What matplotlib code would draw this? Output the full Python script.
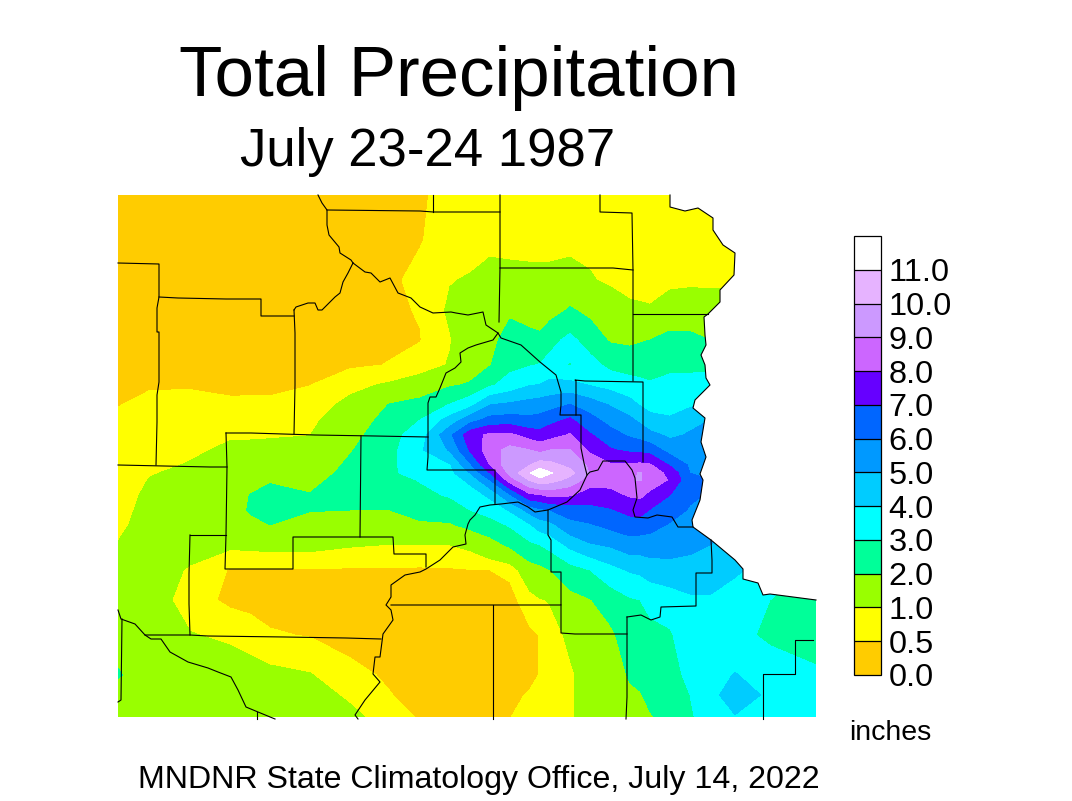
import numpy as np
import matplotlib
matplotlib.use("Agg")
import matplotlib.pyplot as plt
from matplotlib.patches import Polygon

plt.rcParams['font.family'] = ['Liberation Sans', 'DejaVu Sans']

levels = [0, 0.5, 1, 2, 3, 4, 5, 6, 7, 8, 9, 10, 11, 13]
level_labels = ['0.0', '0.5', '1.0', '2.0', '3.0', '4.0', '5.0', '6.0', '7.0', '8.0', '9.0', '10.0', '11.0']
colors = ['#FFCC00', '#FFFF00', '#99FF00', '#00FF99', '#00FFFF', '#00CCFF', '#0099FF',
          '#0066FF', '#6600FF', '#CC66FF', '#CC99FF', '#E6B3FF', '#FFFFFF']

# map position of the grid
grid_x = [118, 150, 190, 230, 250, 270, 310, 350, 390, 420, 450, 470, 490, 510, 530, 540, 550,
          570, 590, 610, 630, 640, 650, 670, 690, 710, 735, 770, 816]
grid_y = [195, 240, 280, 310, 340, 365, 385, 405, 420, 435, 450, 465, 473, 480, 495, 510,
          525, 545, 570, 600, 635, 675, 695, 717]

# rainfall in inches, one list per grid_x column, top to bottom
precip_columns = [
    [.2, .2, .2, .2, .25, .3, .38, .49, .55, .6, .65, .7, .72, .75, .8, .85, .9, 1.02, 1.15, 1.3, 1.5, 2.1, 1.5, 1.5],
    [.2, .2, .2, .22, .28, .35, .47, .58, .63, .7, .8, .9, .97, 1.02, 1.1, 1.15, 1.2, 1.25, 1.25, 1.3, 1.35, 1.4, 1.4, 1.4],
    [.2, .2, .2, .22, .28, .36, .47, .6, .68, .78, .92, 1.03, 1.1, 1.15, 1.25, 1.3, 1.3, 1.2, .95, .75, 1.03, 1.25, 1.3, 1.3],
    [.2, .2, .2, .22, .28, .33, .4, .58, .75, .95, 1.08, 1.2, 1.28, 1.35, 1.45, 1.5, 1.4, 1.12, .46, .38, .9, 1.3, 1.35, 1.35],
    [.2, .2, .2, .22, .28, .33, .38, .6, .75, .95, 1.1, 1.33, 1.5, 1.65, 2.02, 2.1, 1.72, 1.15, .46, .33, .75, 1.25, 1.3, 1.3],
    [.2, .2, .2, .22, .28, .33, .38, .6, .75, .95, 1.15, 1.5, 1.7, 1.95, 2.15, 2.2, 2.0, 1.2, .45, .3, .55, 1.15, 1.3, 1.3],
    [.2, .2, .22, .25, .3, .38, .49, .75, .88, .99, 1.2, 1.45, 1.6, 1.8, 2.03, 2.03, 1.75, 1.2, .45, .3, .47, 1.03, 1.25, 1.3],
    [.2, .22, .25, .28, .33, .42, .85, 1.15, 1.35, 1.65, 1.93, 2.15, 2.25, 2.3, 2.2, 2.0, 1.55, 1.05, .45, .3, .3, .65, .9, 1.15],
    [.32, .35, .42, .42, .42, .52, 1.08, 2.05, 2.4, 2.65, 2.7, 2.7, 2.7, 2.65, 2.4, 2.0, 1.6, .98, .45, .3, .3, .42, .52, .75],
    [.42, .47, .62, .53, .48, .7, 1.35, 2.35, 3.0, 3.5, 3.85, 3.9, 3.7, 3.05, 2.75, 2.35, 1.85, 1.0, .43, .25, .25, .25, .3, .45],
    [.7, .72, .97, 1.1, .96, 1.05, 1.9, 3.05, 4.4, 5.8, 5.1, 3.9, 3.7, 3.45, 3.1, 2.5, 1.9, 1.0, .45, .25, .2, .25, .3, .4],
    [.7, .75, 1.05, 1.4, 1.4, 1.5, 2.1, 3.7, 5.6, 7.6, 7.1, 5.8, 5.0, 4.25, 3.5, 3.0, 2.25, 1.15, .48, .28, .22, .25, .3, .4],
    [.75, .85, 1.2, 1.6, 1.75, 1.95, 2.85, 5.0, 6.35, 8.2, 8.6, 8.0, 7.0, 6.0, 4.2, 3.4, 2.6, 1.6, .5, .35, .28, .25, .3, .4],
    [.75, .85, 1.15, 1.85, 2.35, 2.75, 3.4, 5.2, 6.45, 8.2, 9.3, 9.7, 9.3, 8.5, 5.9, 4.1, 3.1, 2.15, .6, .35, .35, .32, .38, .49],
    [.75, .85, 1.12, 1.55, 2.3, 2.95, 3.95, 5.4, 6.25, 7.55, 9.0, 10.0, 10.95, 10.1, 7.8, 5.4, 3.9, 2.8, 1.6, .75, .42, .38, .55, .65],
    [.75, .85, 1.12, 1.5, 2.2, 3.05, 4.05, 5.5, 6.35, 7.35, 8.7, 10.5, 11.7, 10.7, 7.9, 5.8, 4.5, 3.0, 1.75, .95, .52, .52, .58, .68],
    [.75, .85, 1.12, 1.6, 2.7, 3.3, 4.3, 5.6, 6.7, 7.6, 9.0, 10.3, 11.1, 10.4, 8.3, 6.0, 4.7, 3.3, 2.0, 1.05, .7, .65, .7, .75],
    [.75, .85, 1.2, 2.1, 3.25, 2.95, 4.3, 6.05, 7.15, 8.1, 9.05, 9.75, 10.3, 9.7, 8.1, 6.45, 5.7, 4.25, 2.6, 1.7, 1.15, .9, .92, .95],
    [.75, .85, 1.05, 1.75, 2.55, 3.35, 3.95, 5.5, 6.35, 7.1, 7.8, 8.8, 8.95, 8.5, 7.5, 6.7, 5.9, 4.9, 3.0, 1.95, 1.5, 1.3, 1.25, 1.2],
    [.72, .78, .9, 1.35, 1.9, 2.75, 3.65, 4.95, 5.65, 6.4, 7.1, 8.1, 8.45, 8.35, 7.7, 6.9, 6.25, 5.1, 3.65, 2.45, 1.8, 1.5, 1.4, 1.35],
    [.72, .75, .82, 1.1, 1.8, 2.6, 3.35, 4.35, 5.2, 5.85, 6.8, 8.15, 8.75, 8.9, 8.1, 7.3, 6.55, 5.55, 4.1, 2.9, 2.5, 2.1, 1.85, 1.75],
    [.72, .75, .8, 1.08, 1.9, 2.65, 3.2, 3.95, 4.8, 5.65, 6.75, 8.2, 9.1, 9.05, 8.2, 7.4, 6.5, 5.5, 4.2, 3.0, 2.6, 2.2, 1.95, 1.85],
    [.72, .75, .78, 1.05, 2.0, 2.6, 3.1, 3.75, 4.25, 5.3, 6.6, 8.1, 8.6, 8.6, 7.75, 6.95, 6.35, 5.5, 4.5, 3.2, 2.8, 2.35, 2.15, 1.95],
    [.72, .75, .85, 1.3, 2.3, 2.8, 3.25, 3.7, 4.1, 4.8, 5.6, 6.9, 7.7, 7.9, 7.0, 6.45, 5.9, 5.35, 4.7, 3.45, 2.9, 2.7, 2.5, 2.2],
    [.72, .75, .88, 1.35, 2.25, 2.75, 3.35, 3.85, 4.7, 5.1, 5.45, 5.85, 6.0, 6.25, 6.2, 5.9, 5.6, 5.25, 4.6, 3.85, 3.55, 3.2, 3.0, 2.8],
    [.72, .75, .88, 1.3, 2.0, 2.7, 3.6, 4.15, 5.0, 5.25, 5.5, 5.75, 5.9, 6.0, 5.9, 5.6, 5.35, 5.0, 4.45, 3.9, 3.55, 3.6, 3.75, 3.75],
    [.72, .75, .88, 1.3, 2.0, 2.7, 3.6, 4.1, 4.8, 5.0, 5.2, 5.4, 5.5, 5.5, 5.4, 5.2, 5.0, 4.7, 4.2, 3.4, 3.3, 4.05, 4.4, 3.95],
    [.7, .7, .85, 1.2, 1.9, 2.5, 3.2, 3.8, 4.2, 4.5, 4.7, 4.8, 4.8, 4.8, 4.6, 4.4, 4.2, 3.9, 3.4, 3.0, 2.8, 3.55, 3.85, 3.6],
    [.7, .7, .85, 1.2, 1.9, 2.5, 3.2, 3.8, 4.2, 4.5, 4.7, 4.8, 4.8, 4.8, 4.6, 4.4, 4.2, 3.8, 2.8, 2.5, 2.4, 3.2, 3.4, 3.5],
]

# state edge on the east side, the contours stop here
east_edge = [(670, 195), (670, 207), (685, 211), (698, 208), (713, 218), (713, 230), (723, 245), (735, 253),
             (734, 275), (720, 290), (720, 302), (708, 314), (704, 317), (705, 335), (706, 345), (701, 355),
             (705, 365), (706, 378), (710, 385), (695, 400), (693, 408), (705, 418), (701, 442), (706, 457),
             (700, 474), (703, 480), (700, 500), (692, 520), (693, 527), (711, 540), (735, 560), (743, 569),
             (743, 579), (758, 583), (763, 595), (770, 594), (816, 600)]

# county lines and rivers
boundaries = [
    [(118, 263), (159, 264), (159, 297), (157, 308), (157, 332), (159, 332), (159, 382), (157, 395), (157, 422), (156, 465)],
    [(118, 465), (164, 466), (210, 467), (227, 467)],
    [(159, 297), (178, 298), (226, 299), (261, 299), (261, 316), (294, 316)],
    [(294, 310), (295, 333), (295, 385), (294, 434)],
    [(294, 310), (296, 307), (308, 303), (315, 303), (318, 310), (322, 310), (335, 297), (340, 293), (343, 282), (348, 273), (353, 263)],
    [(318, 195), (322, 203), (327, 210), (327, 225), (329, 235), (339, 247), (340, 253), (351, 260), (353, 263)],
    [(353, 263), (365, 272), (371, 273), (380, 282), (390, 278), (398, 293), (411, 298), (420, 307), (433, 313), (451, 312),
     (456, 313), (468, 315), (483, 312), (486, 325), (498, 333), (501, 338), (521, 345), (540, 362), (556, 375), (561, 392),
     (561, 405), (560, 415), (581, 415), (581, 448), (584, 463), (587, 475)],
    [(498, 333), (493, 340), (476, 345), (468, 348), (460, 353), (461, 362), (455, 368), (446, 373), (440, 388), (436, 397),
     (430, 397), (428, 403), (428, 457), (427, 470), (495, 470), (495, 504)],
    [(226, 433), (251, 433), (315, 435), (375, 436), (428, 437)],
    [(226, 433), (227, 467), (226, 535), (225, 569), (293, 569), (293, 537), (360, 537), (393, 537), (394, 554), (426, 554), (426, 567)],
    [(361, 436), (360, 537)],
    [(190, 535), (226, 535)],
    [(190, 535), (189, 574), (189, 604), (190, 635)],
    [(145, 635), (190, 635), (208, 636), (285, 637), (346, 638), (381, 639)],
    [(118, 610), (121, 619), (135, 624), (145, 635), (151, 639), (161, 639), (170, 652), (188, 662), (208, 668), (218, 672),
     (231, 677), (238, 690), (246, 707), (258, 712), (275, 719)],
    [(122, 619), (121, 700), (118, 702)],
    [(257, 712), (257, 719)],
    [(358, 719), (355, 715), (365, 700), (380, 682), (373, 674), (375, 657), (380, 657), (383, 634), (393, 620), (391, 610),
     (386, 605), (391, 597), (391, 585), (405, 575), (420, 572), (426, 569), (440, 560), (453, 547), (466, 544), (465, 535),
     (468, 524), (470, 520), (475, 515), (480, 507), (490, 505), (501, 504), (518, 502), (528, 507), (535, 512), (548, 510),
     (567, 502), (580, 490), (587, 475), (590, 472), (598, 470), (603, 461), (625, 461), (632, 470), (635, 478), (637, 498),
     (633, 510), (635, 517), (648, 518), (657, 515), (672, 517), (678, 527), (693, 527)],
    [(576, 415), (576, 381), (575, 380), (585, 381), (643, 382), (643, 462)],
    [(633, 381), (633, 314), (633, 270), (632, 213), (600, 212), (600, 195)],
    [(500, 268), (613, 268), (633, 270)],
    [(500, 195), (500, 268), (499, 322)],
    [(327, 210), (420, 211), (433, 212), (500, 212)],
    [(433, 195), (433, 212)],
    [(633, 314), (708, 314)],
    [(548, 510), (548, 535), (551, 540), (551, 572), (561, 572), (561, 605), (391, 605)],
    [(561, 605), (561, 633), (575, 634), (627, 634)],
    [(627, 617), (627, 697), (626, 719)],
    [(627, 617), (641, 615), (651, 620), (660, 617), (661, 607), (696, 606), (696, 573), (712, 573), (712, 560), (711, 540)],
    [(493, 605), (493, 719)],
    [(763, 719), (763, 674), (795, 674), (795, 640), (813, 640)],
]

fig = plt.figure(figsize=(10.72, 8.01), dpi=100)
ax = fig.add_axes([118 / 1072, 1 - 717 / 801, (816 - 118) / 1072, (717 - 195) / 801])

precip = np.array(precip_columns).T
cf = ax.contourf(grid_x, grid_y, precip, levels=levels, colors=colors)

outline = [(118, 195)] + east_edge + [(816, 717), (118, 717)]
clip = Polygon(outline, transform=ax.transData, facecolor='none', edgecolor='none')
ax.add_patch(clip)
cf.set_clip_path(clip)

ax.set_xlim(118, 816)
ax.set_ylim(717, 195)
ax.axis('off')

for line in boundaries + [east_edge]:
    xs, ys = zip(*line)
    ax.plot(xs, ys, color='black', lw=0.8, clip_on=False, solid_joinstyle='round')

ax.text(179, 96, 'Total Precipitation', fontsize=51, va='baseline', clip_on=False)
ax.text(240, 166, 'July 23-24 1987', fontsize=38, va='baseline', clip_on=False)
ax.text(138, 788, 'MNDNR State Climatology Office, July 14, 2022', fontsize=23.1, va='baseline', clip_on=False)
ax.text(849.5, 740, 'inches', fontsize=20.5, va='baseline', clip_on=False)

cax = fig.add_axes([853.5 / 1072, 1 - 675 / 801, 27.5 / 1072, 439 / 801])
cb = fig.colorbar(cf, cax=cax, spacing='uniform', ticks=levels[:-1], drawedges=True)
cb.ax.set_yticklabels(level_labels)
cb.ax.tick_params(length=0, labelsize=23.4, pad=5.5)
cb.dividers.set_color('black')
cb.dividers.set_linewidth(0.9)
cb.outline.set_linewidth(0.9)
cb.outline.set_edgecolor('black')

fig.savefig('out.png', dpi=100)
